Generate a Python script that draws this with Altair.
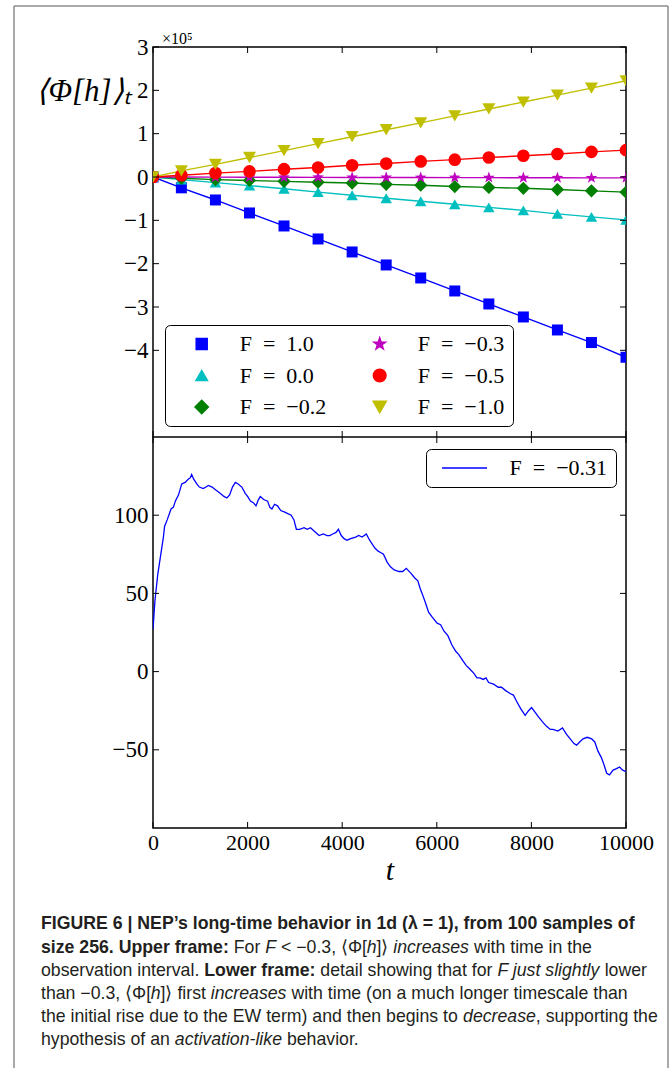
import altair as alt
import pandas as pd

SERIF = "Liberation Serif"
SANS = "Liberation Sans"
ES = "\u2002"  # en space around "=" in legend labels

# ---------------- upper frame data (values in units of 10^5) ----------------
SERIES = [f"F{ES}={ES}1.0", f"F{ES}={ES}0.0", f"F{ES}={ES}−0.2",
          f"F{ES}={ES}−0.3", f"F{ES}={ES}−0.5", f"F{ES}={ES}−1.0"]
COLORS = ["#0000ff", "#00bfbf", "#008000", "#bf00bf", "#ff0000", "#bfbf00"]
STAR = ("M0,-1L0.235,-0.324L0.951,-0.309L0.38,0.124L0.588,0.809L0,0.4"
        "L-0.588,0.809L-0.38,0.124L-0.951,-0.309L-0.235,-0.324Z")
DIAMOND = "M0,-1.12L1.12,0L0,1.12L-1.12,0Z"
MARKERS = ["square", "triangle-up", DIAMOND, STAR, "circle", "triangle-down"]
MARKER_SIZES = [121, 170, 121, 150, 144, 170]
T_MARKERS = [0, 600, 1320, 2040, 2770, 3490, 4210, 4930, 5660, 6380, 7100, 7830, 8550, 9270, 10000]
PHI_F_P10 = [0, -0.25, -0.53, -0.83, -1.13, -1.43, -1.73, -2.03, -2.33, -2.63, -2.93, -3.23, -3.53, -3.82, -4.16]
PHI_F_P00 = [0, -0.06, -0.13, -0.20, -0.27, -0.35, -0.42, -0.49, -0.56, -0.63, -0.70, -0.77, -0.85, -0.92, -0.99]
PHI_F_M02 = [0, -0.03, -0.06, -0.08, -0.10, -0.12, -0.14, -0.17, -0.19, -0.22, -0.24, -0.26, -0.29, -0.32, -0.35]
PHI_F_M03 = [0, 0.0, -0.004, -0.005, -0.007, -0.008, -0.010, -0.011, -0.013, -0.014, -0.015, -0.017, -0.018, -0.020, -0.020]
PHI_F_M05 = [0, 0.04, 0.09, 0.13, 0.18, 0.22, 0.27, 0.31, 0.36, 0.40, 0.45, 0.49, 0.53, 0.58, 0.62]
PHI_F_M10 = [0, 0.14, 0.29, 0.45, 0.61, 0.77, 0.93, 1.09, 1.25, 1.41, 1.57, 1.73, 1.89, 2.05, 2.22]
PHI_TOP = [PHI_F_P10, PHI_F_P00, PHI_F_M02, PHI_F_M03, PHI_F_M05, PHI_F_M10]
EXP_LABEL = "×10⁵"

# ---------------- lower frame data ----------------
LOW_LABEL = f"F{ES}={ES}−0.31"
T_LOW = [0, 40, 100, 160, 220, 245, 300, 381, 430, 472, 540, 608, 680, 744, 790, 817, 860, 926,
         980, 1062, 1120, 1171, 1250, 1334, 1420, 1500, 1561, 1620, 1680, 1742, 1800, 1878, 1950,
         2000, 2060, 2120, 2178, 2230, 2269, 2340, 2423, 2470, 2514, 2570, 2632, 2700, 2786, 2850,
         2922, 2980, 3031, 3100, 3194, 3260, 3330, 3400, 3512, 3600, 3680, 3739, 3800, 3870, 3920,
         3980, 4040, 4101, 4180, 4283, 4350, 4420, 4510, 4580, 4691, 4760, 4820, 4873, 4950, 5020,
         5100, 5200, 5280, 5354, 5450, 5530, 5599, 5650, 5689, 5760, 5826, 5900, 6007, 6080, 6150,
         6234, 6320, 6400, 6461, 6550, 6620, 6688, 6780, 6850, 6914, 6980, 7040, 7096, 7200, 7300,
         7368, 7450, 7550, 7620, 7686, 7780, 7868, 7940, 8004, 8080, 8150, 8231, 8320, 8400, 8457,
         8560, 8657, 8740, 8820, 8900, 8956, 9020, 9092, 9180, 9274, 9340, 9410, 9480, 9540, 9592,
         9650, 9728, 9800, 9864, 9930, 10000]
PHI_LOW = [27, 45, 62, 74, 86, 93, 97, 104, 105, 109, 113, 120, 121, 123, 124, 126, 123, 120,
           118, 117, 118, 119, 118, 116, 114, 112, 111, 113, 118, 121, 120, 118, 114,
           112, 109, 108, 106, 110, 112, 110, 109, 105, 104, 107, 106, 103, 102, 101,
           100, 97, 91, 91, 92, 91, 92, 90, 87, 88, 87, 87, 88, 89, 91,
           87, 85, 84, 85, 86, 87, 86, 88, 84, 79, 77, 76, 75, 70, 67,
           65, 64, 64, 66, 63, 60, 58, 53, 50, 44, 38, 35, 31, 30, 26,
           23, 17, 13, 11, 7, 4, 2, -1, -4, -4, -5, -4, -7, -8, -10,
           -10, -12, -14, -15, -19, -24, -28, -25, -23, -26, -29, -32, -35, -37, -37,
           -38, -36, -40, -43, -46, -47, -45, -43, -42, -43, -45, -51, -55, -60, -65,
           -66, -63, -62, -61, -63, -64]

X_TICKS = [0, 2000, 4000, 6000, 8000, 10000]
Y_TICKS_TOP = [-4, -3, -2, -1, 0, 1, 2, 3]
Y_TICKS_BOT = [-50, 0, 50, 100]

# ---------------- caption ----------------
CAPTION = [
    [("FIGURE 6 | NEP’s long-time behavior in 1d (λ = 1), from 100 samples of", "b")],
    [("size 256. Upper frame:", "b"), (" For ", "r"), ("F", "i"), (" < −0.3, ⟨Φ[", "r"), ("h", "i"),
     ("]⟩ ", "r"), ("increases", "i"), (" with time in the", "r")],
    [("observation interval. ", "r"), ("Lower frame:", "b"), (" detail showing that for ", "r"),
     ("F just slightly", "i"), (" lower", "r")],
    [("than −0.3, ⟨Φ[", "r"), ("h", "i"), ("]⟩ first ", "r"), ("increases", "i"),
     (" with time (on a much longer timescale than", "r")],
    [("the initial rise due to the EW term) and then begins to ", "r"), ("decrease", "i"),
     (", supporting the", "r")],
    [("hypothesis of an ", "r"), ("activation-like", "i"), (" behavior.", "r")],
]

# ---------------- layout constants (pixels, relative to the plot origin) ----------------
W, H_TOP, H_BOT = 473, 390, 391
H = H_TOP + H_BOT
TICK = 6
CAP_FS = 17.7
CAP_X0 = -112
CAP_Y = [877, 900.5, 924, 947, 970, 993]
BL, BR, BT, BB = -139, 515, -41, 1021   # grey figure frame


def _table(groups):
    d = {}
    for chars, w in groups:
        for c in chars:
            d[c] = w
    return d

REG_W = _table([("ijl’", 222), (" ,./:;[]ftI!", 278), ("()-r", 333), ("ckszvxyJ", 500),
                ("abdeghnopqu0123456789λL", 556), ("<=>+−", 584), ("FTZ", 611),
                ("ABEKPSVXY", 667), ("CDHNRUw", 722), ("GOQΦ", 778), ("mM", 833), ("W", 944),
                ("|", 260), ("'", 191), ("⟨⟩", 390)])
BOLD_W = _table([(" ,.[]Iijl’", 278), ("'", 238), ("|", 280), ("()-:ft", 333), ("r", 389), ("z", 500),
                 ("acekesvxyJ0123456789λ", 556), ("<=>−", 584), ("bdghnopquFLTZ", 611),
                 ("EPSVXY", 667), ("ABCDHKNRU", 722), ("GOQwΦ", 778), ("M", 833), ("m", 889),
                 ("W", 944), ("⟨⟩", 390)])


def text_w(s, style):
    tab = BOLD_W if style == "b" else REG_W
    return sum(tab.get(c, 556) for c in s) * CAP_FS / 1000.0


cap_rows = []
for line, y in zip(CAPTION, CAP_Y):
    x = 0.0
    for txt, style in line:
        lead = len(txt) - len(txt.lstrip(" "))
        cap_rows.append({"cx": CAP_X0 + x + text_w(" " * lead, style), "cy": y,
                         "text": txt.strip(" "), "style": style})
        x += text_w(txt, style)
cap_df = pd.DataFrame(cap_rows)

# ---------------- tables ----------------
top_df = pd.DataFrame([{"series": s, "t": t, "v": v}
                       for s, vals in zip(SERIES, PHI_TOP) for t, v in zip(T_MARKERS, vals)])
low_df = pd.DataFrame({"t": T_LOW, "w": PHI_LOW, "run": [LOW_LABEL] * len(T_LOW)})
xt_df = pd.DataFrame({"t": X_TICKS})
yt_top_df = pd.DataFrame({"v": Y_TICKS_TOP})
yt_bot_df = pd.DataFrame({"w": Y_TICKS_BOT})
divider_df = pd.DataFrame({"v": [-6]})
one = pd.DataFrame({"k": [0]})

# ---------------- scales / axes ----------------
XS = alt.Scale(domain=[0, 10000], nice=False, zero=False)
YS_TOP = alt.Scale(domain=[-6, 3], range=[H_TOP, 0], nice=False, zero=False)
YS_BOT = alt.Scale(domain=[-100, 150], range=[H, H_TOP], nice=False, zero=False)

AX_X_HIDDEN = alt.Axis(orient="bottom", labels=False, ticks=False, domain=False, grid=False,
                       title=None)
AX_X = alt.Axis(orient="bottom", values=X_TICKS, format="d", ticks=False, domain=False,
                grid=False, labelFont=SERIF, labelFontSize=22, labelColor="black",
                labelPadding=4, labelFlush=False, labelOverlap=False,
                title="t", titleFont=SERIF, titleFontSize=30, titleFontStyle="italic",
                titleFontWeight="normal", titleColor="black", titlePadding=2)
AX_Y_TOP = alt.Axis(orient="left", values=Y_TICKS_TOP, format="d", ticks=False, domain=False,
                    grid=False, labelFont=SERIF, labelFontSize=23, labelColor="black",
                    labelPadding=5, labelFlush=False, labelOverlap=False,
                    title="⟨Φ[h]⟩ₜ", titleFont=SERIF, titleFontSize=31, titleFontStyle="italic",
                    titleFontWeight="normal", titleColor="black", titleAngle=0,
                    titleAlign="center", titleBaseline="middle", titleX=-70, titleY=44)
AX_Y_BOT = alt.Axis(orient="left", values=Y_TICKS_BOT, format="d", ticks=False, domain=False,
                    grid=False, labelFont=SERIF, labelFontSize=23, labelColor="black",
                    labelPadding=5, labelFlush=False, labelOverlap=False, title=None)

# ---------------- upper frame ----------------
xt = alt.X("t:Q", scale=XS, axis=AX_X_HIDDEN)
yt = alt.Y("v:Q", scale=YS_TOP, axis=AX_Y_TOP)

LEG_TOP = alt.Legend(title=None, orient="none", legendX=12, legendY=278, columns=2,
                     columnPadding=24, rowPadding=9.5, padding=8, strokeColor="black",
                     fillColor="white", cornerRadius=5, labelFont=SERIF, labelFontSize=22,
                     labelColor="black", symbolSize=144, symbolOffset=17.7, labelOffset=27)
COLOR_TOP = alt.Color("series:N", scale=alt.Scale(domain=SERIES, range=COLORS), legend=LEG_TOP)

top_lines = alt.Chart(top_df).mark_line(strokeWidth=1.4, clip=True).encode(
    x=xt, y=yt, color=COLOR_TOP)
top_points = alt.Chart(top_df).mark_point(filled=True, opacity=1, clip=True).encode(
    x=xt, y=yt, color=COLOR_TOP,
    shape=alt.Shape("series:N", scale=alt.Scale(domain=SERIES, range=MARKERS), legend=LEG_TOP),
    size=alt.Size("series:N", scale=alt.Scale(domain=SERIES, range=MARKER_SIZES), legend=None))

rule_k = dict(color="black", strokeWidth=1)
top_marks = [
    top_lines, top_points,
    alt.Chart(yt_top_df).mark_rule(**rule_k).encode(y=yt, x=alt.value(0), x2=alt.value(TICK)),
    alt.Chart(yt_top_df).mark_rule(**rule_k).encode(y=yt, x=alt.value(W - TICK), x2=alt.value(W)),
    alt.Chart(divider_df).mark_rule(color="black", strokeWidth=1.5).encode(
        y=yt, x=alt.value(0), x2=alt.value(W)),
    alt.Chart(xt_df).mark_rule(**rule_k).encode(x=xt, y=alt.value(0), y2=alt.value(TICK)),
    alt.Chart(xt_df).mark_rule(**rule_k).encode(x=xt, y=alt.value(H_TOP - TICK), y2=alt.value(H_TOP + TICK)),
    alt.Chart(xt_df).mark_rule(**rule_k).encode(x=xt, y=alt.value(H - TICK), y2=alt.value(H)),
]
top_group = alt.layer(*top_marks)

# ---------------- lower frame ----------------
xb = alt.X("t:Q", scale=XS, axis=AX_X)
yb = alt.Y("w:Q", scale=YS_BOT, axis=AX_Y_BOT)
LEG_BOT = alt.Legend(title=None, orient="none", legendX=273, legendY=402, padding=8,
                     strokeColor="black", fillColor="white", cornerRadius=5, labelFont=SERIF,
                     labelFontSize=22, labelColor="black", symbolType="M-4.5,0L4.5,0",
                     symbolSize=100, symbolStrokeWidth=1.5, symbolOffset=19.5, labelOffset=34)
low_line = alt.Chart(low_df).mark_line(strokeWidth=1.3, clip=True).encode(
    x=xb, y=yb,
    stroke=alt.Stroke("run:N", scale=alt.Scale(domain=[LOW_LABEL], range=["#0000ff"]),
                      legend=LEG_BOT))
bot_group = alt.layer(
    low_line,
    alt.Chart(yt_bot_df).mark_rule(**rule_k).encode(y=yb, x=alt.value(0), x2=alt.value(TICK)),
    alt.Chart(yt_bot_df).mark_rule(**rule_k).encode(y=yb, x=alt.value(W - TICK), x2=alt.value(W)),
)

# ---------------- annotations: exponent, caption, grey figure frame ----------------
BORDER = "#8c8c8c"
frame_marks = [
    alt.Chart(one).mark_rule(color=BORDER, strokeWidth=1.5).encode(
        x=alt.value(BL), y=alt.value(BT), y2=alt.value(BB)),
    alt.Chart(one).mark_rule(color=BORDER, strokeWidth=1.5).encode(
        x=alt.value(BR), y=alt.value(BT), y2=alt.value(BB)),
    alt.Chart(one).mark_rule(color=BORDER, strokeWidth=1.5).encode(
        x=alt.value(BL), x2=alt.value(BR), y=alt.value(BT)),
    alt.Chart(one).mark_text(align="left", baseline="middle", font=SERIF, fontSize=16,
                             color="black").encode(
        x=alt.value(9), y=alt.value(-8), text=alt.value(EXP_LABEL)),
]
cap_marks = []
for style, weight, fstyle in [("r", "normal", "normal"), ("b", "bold", "normal"), ("i", "normal", "italic")]:
    cap_marks.append(
        alt.Chart(cap_df).transform_filter(alt.datum.style == style).mark_text(
            align="left", baseline="middle", font=SANS, fontSize=CAP_FS, fontWeight=weight,
            fontStyle=fstyle, color="#231f20").encode(
            x=alt.X("cx:Q", scale=None, axis=None),
            y=alt.Y("cy:Q", scale=None, axis=None),
            text="text:N"))

chart = alt.layer(top_group, bot_group, *frame_marks, *cap_marks).resolve_scale(
    x="independent", y="independent").resolve_axis(x="independent", y="independent").properties(
    width=W, height=H,
    padding={"left": 13, "top": 5, "right": 2, "bottom": 0},
    background="white",
).configure_view(stroke="black", strokeWidth=1.5)

chart.save("out.html", embed_options={"renderer": "svg", "actions": False})
